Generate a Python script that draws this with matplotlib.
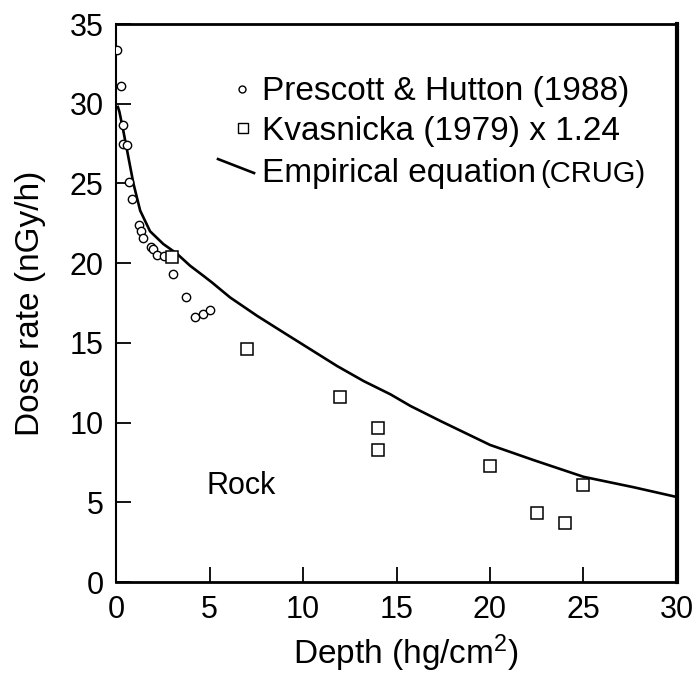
import matplotlib
matplotlib.use("Agg")
import matplotlib.pyplot as plt

# -----------------------------
# Data
# -----------------------------
prescott_depth = [0.07, 0.25, 0.36, 0.39, 0.6, 0.71, 0.87, 1.25, 1.36, 1.43,
                  1.86, 1.97, 2.21, 2.57, 3.07, 3.75, 4.23, 4.64, 5.03]
prescott_dose = [33.4, 31.1, 28.65, 27.5, 27.4, 25.1, 24.0, 22.4, 22.0, 21.6,
                 21.0, 20.9, 20.5, 20.45, 19.3, 17.9, 16.6, 16.8, 17.05]

kvasnicka_depth = [3.0, 7.0, 12.0, 14.0, 14.0, 20.0, 22.5, 24.0, 25.0]
kvasnicka_dose = [20.4, 14.6, 11.6, 9.65, 8.25, 7.3, 4.3, 3.7, 6.1]

empirical_depth = [0.1, 0.18, 0.39, 0.66, 0.93, 1.29, 1.82, 2.53, 3.25, 3.96,
                   4.68, 5.12, 6.1, 7.54, 8.96, 10.39, 11.82, 13.25, 14.68,
                   15.75, 17.35, 20.0, 22.35, 25.0, 27.7, 30.0]
empirical_dose = [29.8, 29.5, 28.3, 26.65, 25.0, 23.3, 22.0, 21.2, 20.6, 19.84,
                  19.2, 18.8, 17.85, 16.7, 15.65, 14.6, 13.55, 12.6, 11.77,
                  11.04, 10.1, 8.6, 7.64, 6.6, 5.94, 5.33]

x_ticks = [0, 5, 10, 15, 20, 25, 30]
y_ticks = [0, 5, 10, 15, 20, 25, 30, 35]

# -----------------------------
# Style
# -----------------------------
plt.rcParams["font.family"] = ["Liberation Sans", "DejaVu Sans"]
plt.rcParams["mathtext.fontset"] = "custom"
plt.rcParams["mathtext.rm"] = "Liberation Sans"
plt.rcParams["mathtext.it"] = "Liberation Sans"

fig = plt.figure(figsize=(6.99, 6.77), dpi=100)
ax = fig.add_axes([0.166, 0.1403, 0.8025, 0.8242])

# -----------------------------
# Plot
# -----------------------------
ax.plot(empirical_depth, empirical_dose, color="black", lw=1.9)
ax.plot(prescott_depth, prescott_dose, "o", ms=6, mfc="white", mec="black",
        mew=1.0, ls="none", zorder=3)
ax.plot(kvasnicka_depth, kvasnicka_dose, "s", ms=8.5, mfc="white", mec="black",
        mew=1.1, ls="none", zorder=3)

ax.set_xlim(0, 30)
ax.set_ylim(0, 35)
ax.set_xticks(x_ticks)
ax.set_yticks(y_ticks)
ax.tick_params(direction="in", length=11, width=1.3, labelsize=22, pad=9)

ax.spines["left"].set_linewidth(1.5)
ax.spines["top"].set_linewidth(2.0)
ax.spines["bottom"].set_linewidth(2.0)
ax.spines["right"].set_linewidth(3.0)

ax.set_xlabel("Depth (hg/cm$^{2}$)", fontsize=24)
ax.xaxis.set_label_coords(0.517, -0.09)
ax.set_ylabel("Dose rate (nGy/h)", fontsize=24)
ax.yaxis.set_label_coords(-0.125, 0.5)

# -----------------------------
# Legend (hand placed)
# -----------------------------
ax.plot([0.2246], [0.8835], "o", ms=5, mfc="white", mec="black", mew=1.0,
        transform=ax.transAxes, clip_on=False)
ax.plot([0.2264], [0.8136], "s", ms=7, mfc="white", mec="black", mew=1.0,
        transform=ax.transAxes, clip_on=False)
ax.plot([0.1818, 0.246], [0.758, 0.733], color="black", lw=1.9,
        transform=ax.transAxes, clip_on=False)

ax.text(0.260, 0.8638, "Prescott & Hutton (1988)", fontsize=24,
        transform=ax.transAxes, va="baseline")
ax.text(0.260, 0.7921, "Kvasnicka (1979) x 1.24", fontsize=24,
        transform=ax.transAxes, va="baseline")
ax.text(0.260, 0.7168, "Empirical equation", fontsize=24,
        transform=ax.transAxes, va="baseline")
ax.text(0.756, 0.7168, "(CRUG)", fontsize=21,
        transform=ax.transAxes, va="baseline")

ax.text(4.82, 6.0, "Rock", fontsize=22, va="center")

fig.savefig("out.png", dpi=100)
